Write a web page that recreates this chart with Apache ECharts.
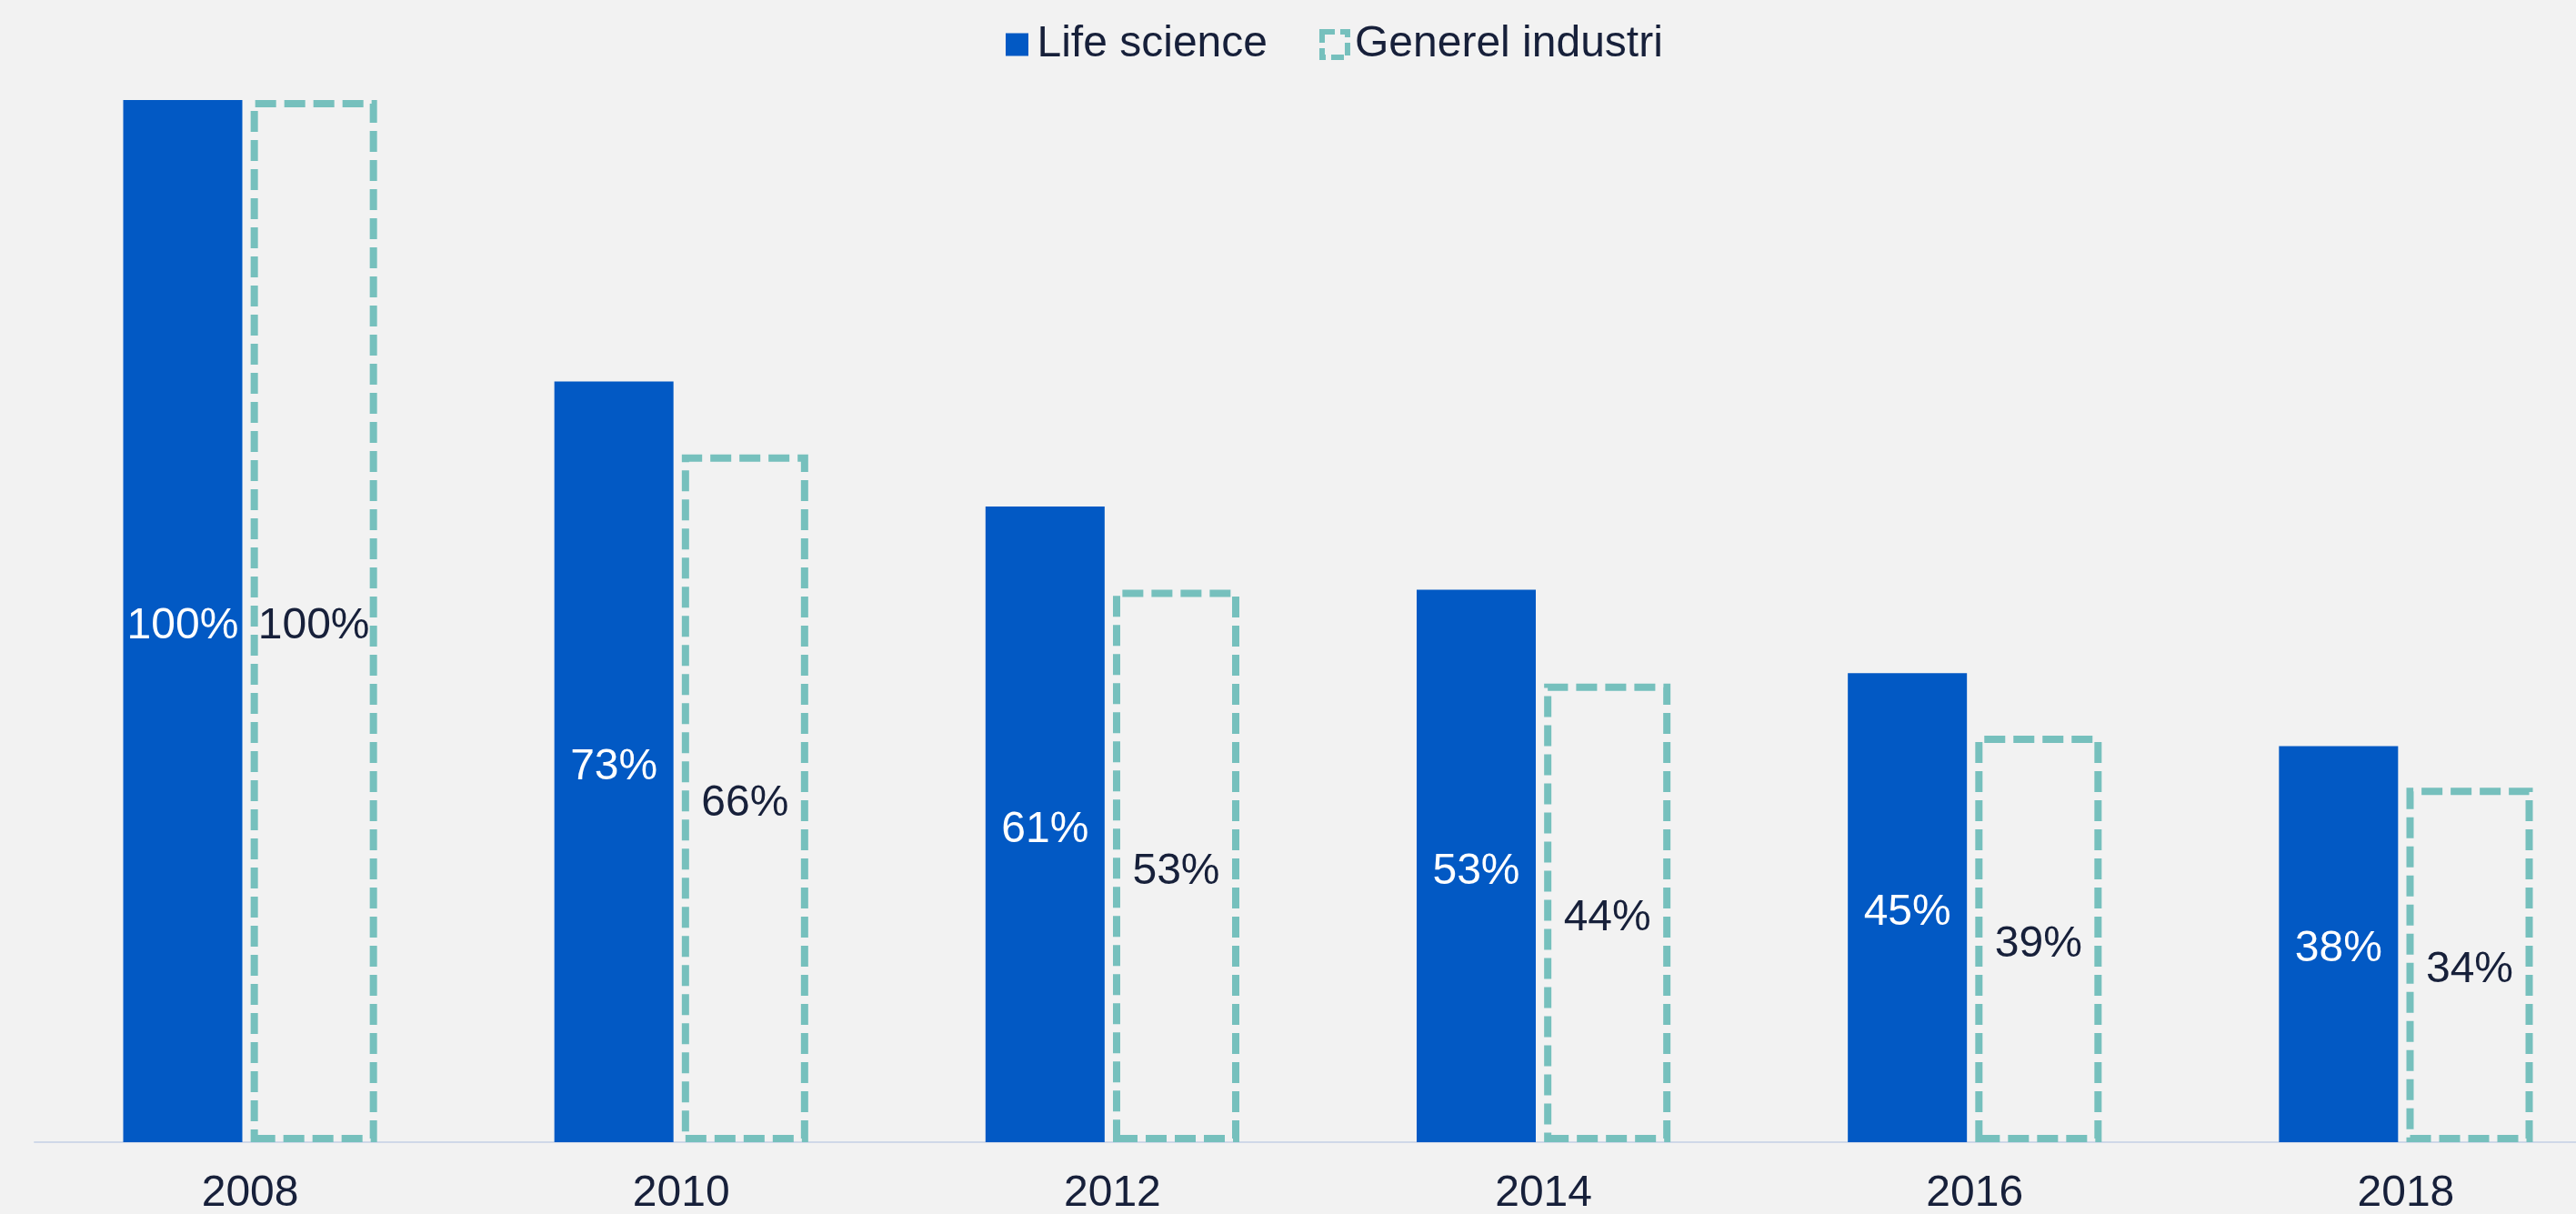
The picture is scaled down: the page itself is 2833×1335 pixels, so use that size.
<!DOCTYPE html>
<html>
<head>
<meta charset="utf-8">
<style>
  html, body { margin: 0; padding: 0; background: #f2f2f2; }
  #chart { width: 2833px; height: 1335px; }
</style>
<script src="https://cdn.jsdelivr.net/npm/echarts@6/dist/echarts.min.js"></script>
</head>
<body>
<div id="chart"></div>
<script>
// Indexed cost level, 2008 = 100%
const years = ['2008', '2010', '2012', '2014', '2016', '2018'];
const lifeScience = [100, 73, 61, 53, 45, 38];
const generelIndustri = [100, 66, 53, 44, 39, 34];

const BG = '#f2f2f2';
const BLUE = '#0259c4';
const TEAL = '#76c0bd';
const INK = '#17203a';
const FONT = '"Liberation Sans", Arial, sans-serif';

const chart = echarts.init(document.getElementById('chart'), null, { renderer: 'canvas' });

chart.setOption({
  backgroundColor: BG,
  animation: false,
  legend: {
    left: 1098,
    top: 20,
    icon: 'rect',
    itemWidth: 28,
    itemHeight: 28,
    itemGap: 57,
    textStyle: { fontFamily: FONT, fontSize: 48, color: INK, padding: [0, 0, 0, 3] },
    data: [
      // background-coloured border trims the filled swatch to 25px
      { name: 'Life science', itemStyle: { color: BLUE, borderColor: BG, borderWidth: 3 } },
      { name: 'Generel industri', itemStyle: { color: 'transparent', borderColor: TEAL, borderWidth: 6, borderType: [14, 6] } }
    ]
  },
  grid: { left: 38, top: 110, width: 2845, height: 1146, outerBoundsMode: 'none', containLabel: false },
  xAxis: {
    type: 'category',
    data: years,
    axisLine: { lineStyle: { color: '#cfd8e8', width: 2 } },
    axisTick: { show: false },
    axisLabel: { fontFamily: FONT, fontSize: 48, color: INK, margin: 33 }
  },
  yAxis: {
    type: 'value',
    min: 0,
    max: 100,
    show: false,
    splitLine: { show: false }
  },
  series: [
    {
      name: 'Life science',
      type: 'bar',
      data: lifeScience,
      barWidth: 131,
      barGap: '7%',
      itemStyle: { color: BLUE },
      label: {
        show: true,
        position: 'inside',
        offset: [0, 6],
        formatter: p => p.value + '%',
        fontFamily: FONT,
        fontSize: 48,
        color: '#ffffff'
      }
    },
    {
      name: 'Generel industri',
      type: 'bar',
      data: generelIndustri,
      barWidth: 139,
      barGap: '7%',
      itemStyle: {
        color: 'transparent',
        borderColor: TEAL,
        borderWidth: 8,
        borderType: [23, 9]
      },
      label: {
        show: true,
        position: 'inside',
        offset: [0, 6],
        formatter: p => p.value + '%',
        fontFamily: FONT,
        fontSize: 48,
        color: INK
      }
    }
  ]
});
</script>
</body>
</html>
